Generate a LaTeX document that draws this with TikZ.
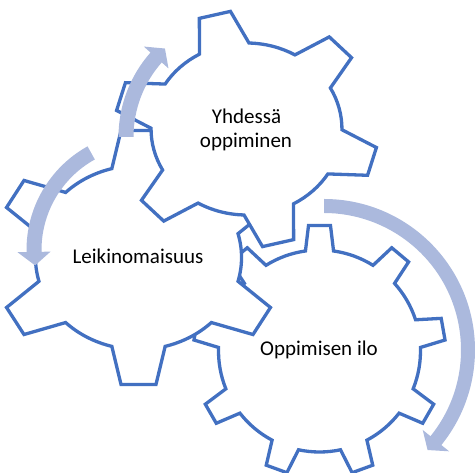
\documentclass[tikz,border=0pt]{standalone}
\usepackage{fontspec}
\setmainfont{Carlito}
\definecolor{gearblue}{RGB}{66,112,193}
\definecolor{arrowblue}{RGB}{171,185,221}
\tikzset{
  gearline/.style={draw=gearblue, fill=white, line width=3.3pt, line join=miter},
  gtext/.style={anchor=base, inner sep=0pt, font=\fontsize{21}{25}\selectfont},
}
% cx cy xscale N phi0 rroot rtip halfroot halftip
\newcommand\mygear[9]{%
  \begin{scope}[shift={(#1,#2)},xscale=#3]
    \pgfmathsetmacro\gstep{360/#4}
    \pgfmathtruncatemacro\gN{#4-1}
    \path[gearline] ({#5-#8}:#6)
      \foreach \k in {0,...,\gN}{
        -- ({#5+\k*\gstep-#9}:#7) -- ({#5+\k*\gstep+#9}:#7) -- ({#5+\k*\gstep+#8}:#6)
        arc[start angle={#5+\k*\gstep+#8}, end angle={#5+(\k+1)*\gstep-#8}, radius=#6]
      } -- cycle;
  \end{scope}}
% cx cy r halfwidth thetastart thetaend headangle(signed) barbextra
\newcommand\cirarrow[8]{%
  \begin{scope}[shift={(#1,#2)}]
    \pgfmathsetmacro\caRo{#3+#4}
    \pgfmathsetmacro\caRi{#3-#4}
    \pgfmathsetmacro\caBo{#3+#4+#8}
    \pgfmathsetmacro\caBi{#3-#4-#8}
    \pgfmathsetmacro\caTip{#6+#7}
    \fill[arrowblue] (#5:\caRo) arc[start angle=#5, end angle=#6, radius=\caRo]
      -- (#6:\caBo) -- (\caTip:#3) -- (#6:\caBi) -- (#6:\caRi)
      arc[start angle=#6, end angle=#5, radius=\caRi] -- cycle;
  \end{scope}}
\begin{document}
\begin{tikzpicture}[x=1pt,y=1pt]
  \useasboundingbox (0,0) rectangle (475,473);
  % gears (bottom to top)
  \mygear{319.5}{122}{1}{9}{90}{101}{126}{8}{5}
  \mygear{138.5}{215.5}{1.12}{6}{-90}{92}{128}{15}{7}
  \mygear{246.5}{344}{1.11}{6}{104}{86}{118.5}{15.5}{7}
  % texts
  \node[gtext] (y1) at (246.5,349.7) {Yhdessä};
  \node[gtext] (y2) at (246,325.3) {oppiminen};
  \node[gtext] (le) at (138,209.5) {Leikinomaisuus};
  \node[gtext] (op) at (319,117) {Oppimisen ilo};
  % arrows
  \cirarrow{246}{336}{120}{7.5}{180}{138.5}{-6}{9}
  \cirarrow{145}{223}{111}{7.5}{119}{181}{7}{9}
  \cirarrow{324}{123}{144}{7}{90}{-39}{-5}{10}
\end{tikzpicture}
\end{document}
